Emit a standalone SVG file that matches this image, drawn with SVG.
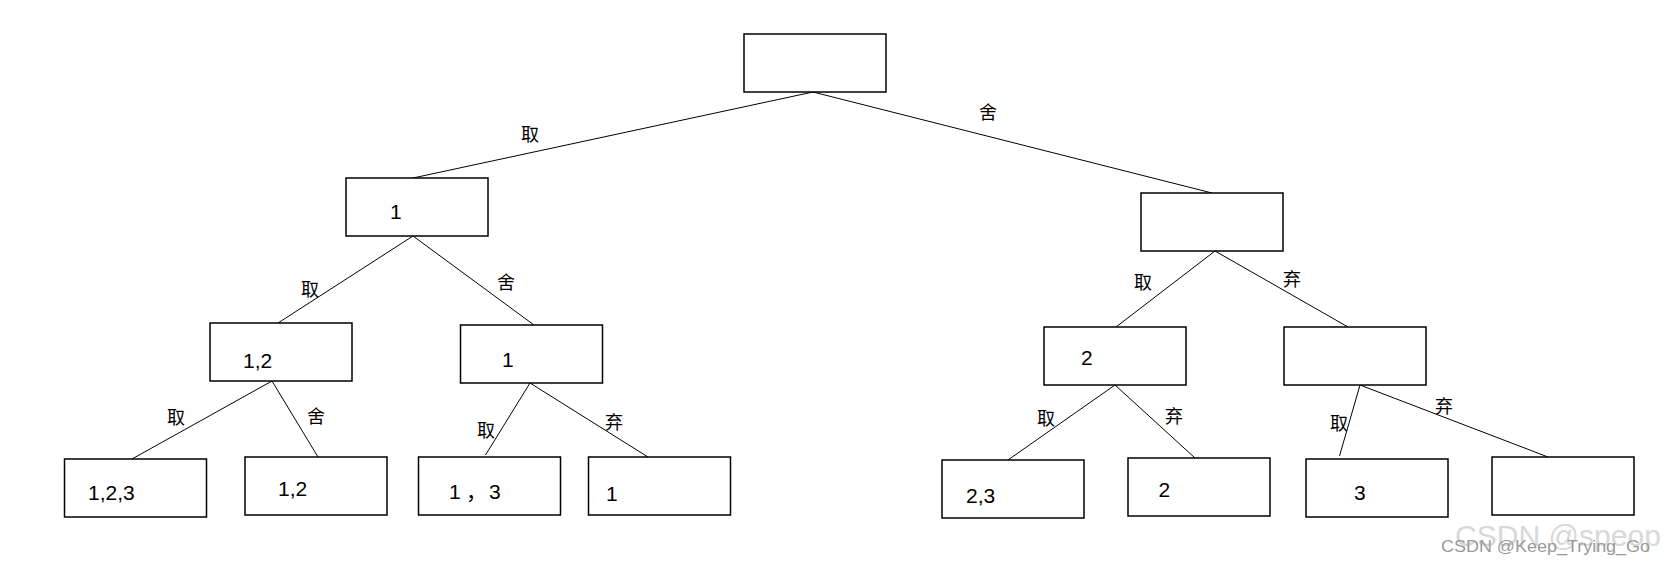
<svg xmlns="http://www.w3.org/2000/svg" width="1665" height="566" viewBox="0 0 1665 566">
<style>
.box{fill:#fff;stroke:#000;stroke-width:1.5}
.c line{stroke:#000;stroke-width:1}
.lab{font-family:"Noto Sans CJK SC","Noto Sans",sans-serif;font-size:18px;fill:#000;text-anchor:middle}
.num{font-family:"Liberation Sans","Noto Sans CJK SC",sans-serif;font-size:21px;fill:#000}
.wm1{font-family:"Liberation Sans",sans-serif;font-size:30px;fill:#d8d8d8}
.wm2{font-family:"Liberation Sans",sans-serif;font-size:17px;fill:#9a9a9a}
</style>
<rect width="1665" height="566" fill="#fff"/>
<g id="connectors" class="c">
<line x1="813" y1="92" x2="413" y2="178"/>
<line x1="813" y1="92" x2="1212" y2="193"/>
<line x1="413" y1="236" x2="278" y2="323"/>
<line x1="413" y1="236" x2="534" y2="325"/>
<line x1="1215" y1="251" x2="1116" y2="327"/>
<line x1="1215" y1="251" x2="1348" y2="327"/>
<line x1="272" y1="381" x2="132" y2="459"/>
<line x1="272" y1="381" x2="318" y2="457"/>
<line x1="530" y1="383" x2="485.5" y2="455"/>
<line x1="530" y1="383" x2="648" y2="457"/>
<line x1="1115" y1="385" x2="1008" y2="460"/>
<line x1="1115" y1="385" x2="1195" y2="458"/>
<line x1="1360" y1="385" x2="1339.5" y2="456"/>
<line x1="1360" y1="385" x2="1548" y2="457"/>
</g>
<g id="edge-labels">
<text class="lab" x="530" y="141">取</text>
<text class="lab" x="988" y="119">舍</text>
<text class="lab" x="310" y="296">取</text>
<text class="lab" x="506" y="289">舍</text>
<text class="lab" x="176" y="424">取</text>
<text class="lab" x="316" y="423">舍</text>
<text class="lab" x="486" y="437">取</text>
<text class="lab" x="614" y="429">弃</text>
<text class="lab" x="1143" y="289">取</text>
<text class="lab" x="1292" y="286">弃</text>
<text class="lab" x="1046" y="425">取</text>
<text class="lab" x="1174" y="423">弃</text>
<text class="lab" x="1339" y="430">取</text>
<text class="lab" x="1444" y="413">弃</text>
</g>
<g id="n-root"><rect class="box" x="744" y="34" width="142" height="58"/></g>
<g id="n-1"><rect class="box" x="346" y="178" width="142" height="58"/><text class="num" x="390" y="219">1</text></g>
<g id="n-r"><rect class="box" x="1141" y="193" width="142" height="58"/></g>
<g id="n-12"><rect class="box" x="210" y="323" width="142" height="58"/><text class="num" x="243" y="368">1,2</text></g>
<g id="n-1b"><rect class="box" x="460.5" y="325" width="142" height="58"/><text class="num" x="502" y="366.5">1</text></g>
<g id="n-2"><rect class="box" x="1044" y="327" width="142" height="58"/><text class="num" x="1081" y="365">2</text></g>
<g id="n-re"><rect class="box" x="1284" y="327" width="142" height="58"/></g>
<g id="n-123"><rect class="box" x="64.5" y="459" width="142" height="58"/><text class="num" x="88" y="500">1,2,3</text></g>
<g id="n-12b"><rect class="box" x="245" y="457" width="142" height="58"/><text class="num" x="278" y="496">1,2</text></g>
<g id="n-13"><rect class="box" x="418.5" y="457" width="142" height="58"/><text class="num" x="449 466 489" y="499">1，3</text></g>
<g id="n-1c"><rect class="box" x="588.5" y="457" width="142" height="58"/><text class="num" x="606" y="500.5">1</text></g>
<g id="n-23"><rect class="box" x="942" y="460" width="142" height="58"/><text class="num" x="966" y="503">2,3</text></g>
<g id="n-2b"><rect class="box" x="1128" y="458" width="142" height="58"/><text class="num" x="1158.5" y="497">2</text></g>
<g id="n-3"><rect class="box" x="1306" y="459" width="142" height="58"/><text class="num" x="1354" y="500">3</text></g>
<g id="n-e"><rect class="box" x="1492" y="457" width="142" height="58"/></g>
<text class="wm1" x="1455" y="546" textLength="206" lengthAdjust="spacingAndGlyphs">CSDN @speop</text>
<text class="wm2" x="1441" y="552" textLength="209" lengthAdjust="spacingAndGlyphs">CSDN @Keep_Trying_Go</text>
</svg>
